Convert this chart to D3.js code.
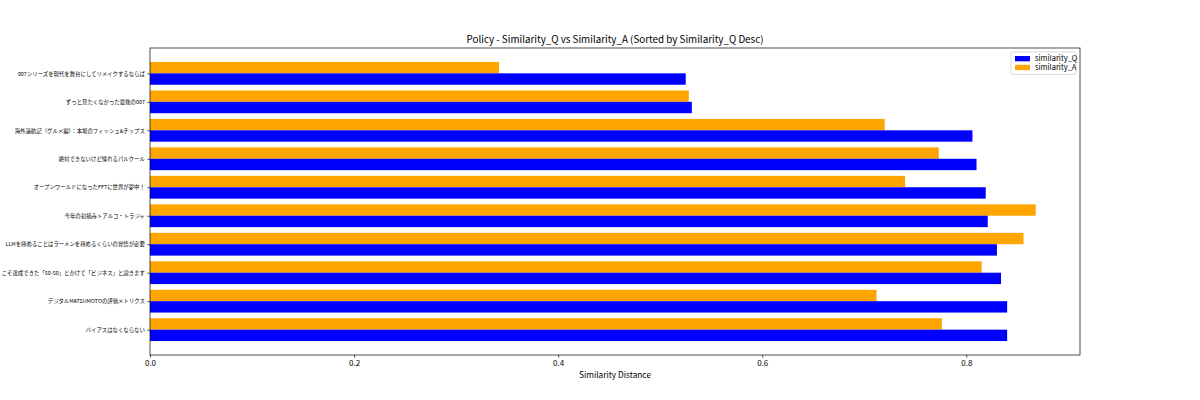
<!DOCTYPE html>
<html>
<head>
<meta charset="utf-8">
<script src="https://cdn.jsdelivr.net/npm/d3@7"></script>
<style>
  body { margin: 0; background: #fff; }
  svg { font-family: "Noto Sans CJK JP", "Noto Sans", sans-serif; }
</style>
</head>
<body>
<div id="chart"></div>
<script>
// Kategorije (od vrha prema dnu)
const categories = [
  "007シリーズを現代を舞台にしてリメイクするならば",
  "ずっと見たくなかった最後の007",
  "海外遠航記（グルメ編）：本場のフィッシュ&チップス",
  "絶対できないけど憧れるパルクール",
  "オープンワールドになったFFTに世界が夢中！",
  "今年の初摘みトアルコ・トラジャ",
  "LLMを極めることはラーメンを極めるくらいの覚悟が必要",
  "こそ達成できた「50-50」とかけて「ビジネス」と説きます",
  "デジタルMATSUMOTOの評価メトリクス",
  "バイアスはなくならない"
];
const similarityQ = [0.525, 0.531, 0.806, 0.810, 0.819, 0.821, 0.830, 0.834, 0.840, 0.840];
const similarityA = [0.342, 0.528, 0.720, 0.773, 0.740, 0.868, 0.856, 0.815, 0.712, 0.776];
const xTicks = [0.0, 0.2, 0.4, 0.6, 0.8];
const seriesNames = ["similarity_Q", "similarity_A"];
const seriesColors = ["#0000ff", "#ffa500"];

const width = 1200, height = 400;
const margin = { top: 48, right: 120, bottom: 45, left: 150 };
const innerW = width - margin.left - margin.right;
const innerH = height - margin.top - margin.bottom;

const svg = d3.select("#chart").append("svg")
  .attr("width", width)
  .attr("height", height);

const g = svg.append("g")
  .attr("transform", `translate(${margin.left},${margin.top})`);

const maxVal = d3.max(similarityQ.concat(similarityA));
const x = d3.scaleLinear().domain([0, maxVal * 1.05]).range([0, innerW]);
// pozicije kategorija kao u matplotlibu (barh, obrnuta os)
const y = d3.scaleLinear().domain([-0.89, 9.89]).range([0, innerH]);
const barH = 0.4;

const rows = categories.map((c, i) => ({ c, i, q: similarityQ[i], a: similarityA[i] }));

// narančasti stupci (iznad tick-a)
g.selectAll(".bar-a").data(rows).enter().append("rect")
  .attr("class", "bar-a")
  .attr("x", x(0))
  .attr("y", d => y(d.i - barH))
  .attr("width", d => x(d.a) - x(0))
  .attr("height", y(barH) - y(0))
  .attr("fill", seriesColors[1]);

// plavi stupci (ispod tick-a)
g.selectAll(".bar-q").data(rows).enter().append("rect")
  .attr("class", "bar-q")
  .attr("x", x(0))
  .attr("y", d => y(d.i))
  .attr("width", d => x(d.q) - x(0))
  .attr("height", y(barH) - y(0))
  .attr("fill", seriesColors[0]);

// okvir
g.append("rect")
  .attr("width", innerW).attr("height", innerH)
  .attr("fill", "none").attr("stroke", "#000").attr("stroke-width", 0.7);

// x os
const xAxis = g.append("g")
  .attr("transform", `translate(0,${innerH})`)
  .call(d3.axisBottom(x).tickValues(xTicks).tickFormat(d3.format(".1f")).tickSize(2.6).tickPadding(2.5));
xAxis.select(".domain").remove();
xAxis.selectAll("line").attr("stroke-width", 0.7);
xAxis.selectAll("text").attr("font-size", "8px").attr("fill", "#000")
  .attr("font-family", "'Noto Sans CJK JP', sans-serif");

// y os
const yAxis = g.append("g")
  .call(d3.axisLeft(y).tickValues(d3.range(categories.length)).tickFormat(i => categories[i]).tickSize(2.6).tickPadding(2.5));
yAxis.select(".domain").remove();
yAxis.selectAll("line").attr("stroke-width", 0.7);
yAxis.selectAll("text").attr("font-size", "5.4px").attr("fill", "#000")
  .attr("font-family", "'Noto Sans CJK JP', sans-serif");

// naslov i oznaka osi
svg.append("text")
  .attr("x", margin.left + innerW / 2)
  .attr("y", margin.top - 5)
  .attr("text-anchor", "middle")
  .attr("font-size", "9.8px")
  .text("Policy - Similarity_Q vs Similarity_A (Sorted by Similarity_Q Desc)");

svg.append("text")
  .attr("x", margin.left + innerW / 2)
  .attr("y", 378)
  .attr("text-anchor", "middle")
  .attr("font-size", "8.3px")
  .text("Similarity Distance");

// legenda
const lg = g.append("g").attr("transform", `translate(${innerW - 69},4)`);
lg.append("rect")
  .attr("width", 65).attr("height", 22.5)
  .attr("fill", "#fff").attr("fill-opacity", 0.8)
  .attr("stroke", "#ccc").attr("stroke-width", 0.7).attr("rx", 1.5);
const items = lg.selectAll(".legend-item").data(seriesNames).enter().append("g")
  .attr("class", "legend-item")
  .attr("transform", (d, i) => `translate(4,${4 + i * 8.8})`);
items.append("rect")
  .attr("width", 15).attr("height", 5.3)
  .attr("fill", (d, i) => seriesColors[i]);
items.append("text")
  .attr("x", 20).attr("y", 5.2)
  .attr("font-size", "7.5px")
  .text(d => d);
</script>
</body>
</html>
